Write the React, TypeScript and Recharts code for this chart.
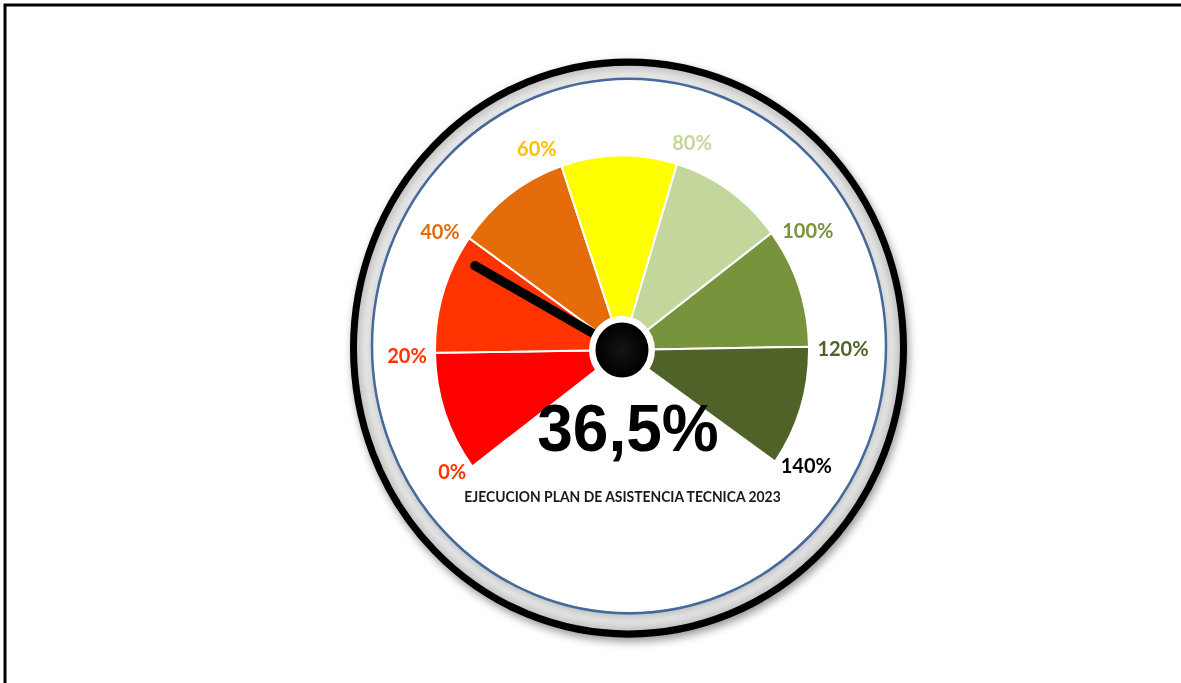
import React from 'react';
import { PieChart, Pie, Cell } from 'recharts';

const CATEGORIES = ['0-20', '20-40', '40-60', '60-80', '80-100', '100-120', '120-140'];
const SEGMENT_VALUES = [20, 20, 20, 20, 20, 20, 20];
const SEGMENT_COLORS = ['#FF0000', '#FF3300', '#E46C0A', '#FFFF00', '#C3D69B', '#77933C', '#4F6228'];
const TICK_LABELS = ['0%', '20%', '40%', '60%', '80%', '100%', '120%', '140%'];
const TICK_COLORS = ['#FF3300', '#FF3300', '#E46C0A', '#FFC000', '#C3D69B', '#77933C', '#4F6228', '#000000'];
const GAUGE_VALUE = 36.5;
const GAUGE_MAX = 140;
const TITLE = 'EJECUCION PLAN DE ASISTENCIA TECNICA 2023';

// label placement fine-tuning (style): angle shift in degrees and gap beyond the outer radius
const LABEL_ANGLE_SHIFT = [-2.3, 0.5, 3, 4.8, -2.2, -5, -0.5, 4];
const LABEL_GAP = [19, 28, 28, 25, 25, 32, 34, 28];

const segmentData = CATEGORIES.map((name, i) => ({ name, value: SEGMENT_VALUES[i] }));
const needleData = [
  { name: 'valor', value: GAUGE_VALUE },
  { name: 'resto', value: GAUGE_MAX - GAUGE_VALUE },
];

const W = 1181;
const H = 683;
const CX = 622;
const CY = 350;
const R = 187;
const START = 216.8;
const END = -35;
const STRETCH = 1.04;
const RAD = Math.PI / 180;

const polar = (cx: number, cy: number, r: number, a: number) => ({
  x: cx + r * Math.cos(-a * RAD),
  y: cy + r * Math.sin(-a * RAD),
});

const tickLabel = (i: number, cx: number, cy: number, outerRadius: number, angle: number) => {
  const p = polar(cx, cy, outerRadius + LABEL_GAP[i], angle + LABEL_ANGLE_SHIFT[i]);
  return (
    <text
      key={`t${i}`}
      x={p.x}
      y={p.y}
      textAnchor="middle"
      dominantBaseline="central"
      fill={TICK_COLORS[i]}
      fontFamily="Lato, 'Open Sans', sans-serif"
      fontWeight={700}
      fontSize={20}
    >
      {TICK_LABELS[i]}
    </text>
  );
};

const renderTickLabel = (props: any) => {
  const { cx, cy, outerRadius, startAngle, endAngle, index } = props;
  const items = [tickLabel(index, cx, cy, outerRadius, startAngle)];
  if (index === CATEGORIES.length - 1) {
    items.push(tickLabel(index + 1, cx, cy, outerRadius, endAngle));
  }
  return <g key={`tl-${index}`}>{items}</g>;
};

const renderNeedle = (props: any) => {
  const { cx, cy, endAngle, index } = props;
  if (index !== 0) return <g key={`n-${index}`} />;
  const tip = polar(cx, cy, 168, endAngle);
  return (
    <g key="needle">
      <defs>
        <radialGradient id="hubGrad" cx="50%" cy="50%" r="50%">
          <stop offset="0%" stopColor="#141414" />
          <stop offset="100%" stopColor="#000000" />
        </radialGradient>
      </defs>
      <line x1={cx} y1={cy} x2={tip.x} y2={tip.y} stroke="#000" strokeWidth={9} strokeLinecap="round" />
      <circle cx={cx} cy={cy} r={33} fill="#ffffff" />
      <circle cx={cx} cy={cy} r={26.5} fill="url(#hubGrad)" />
      <text
        x={cx + 6}
        y={447}
        textAnchor="middle"
        fill="#000"
        fontFamily="'Liberation Sans', Arial, sans-serif"
        fontWeight={700}
        fontSize={64}
      >
        {GAUGE_VALUE.toFixed(1).replace('.', ',') + '%'}
      </text>
      <text
        x={cx + 0.5}
        y={496}
        textAnchor="middle"
        fill="#1a1a1a"
        fontFamily="Lato, 'Open Sans', sans-serif"
        fontWeight={700}
        fontSize={13.9}
      >
        {TITLE}
      </text>
    </g>
  );
};

export default function App() {
  return (
    <div style={{ position: 'absolute', left: 0, top: 0, width: W, height: H, overflow: 'hidden', background: '#fff' }}>
      <svg width={W} height={H} style={{ position: 'absolute', left: 0, top: 0 }}>
        <path d={`M5,${H + 5} V5 H${W + 5}`} fill="none" stroke="#000" strokeWidth={3} />
      </svg>
      <div
        style={{
          position: 'absolute',
          left: 0,
          top: 0,
          width: W,
          height: H,
          transform: `scaleY(${STRETCH})`,
          transformOrigin: `${CX}px ${CY}px`,
        }}
      >
        <svg width={W} height={H} style={{ position: 'absolute', left: 0, top: 0 }}>
          <defs>
            <filter id="outerShadow" x="-20%" y="-20%" width="140%" height="140%">
              <feDropShadow dx="2" dy="4" stdDeviation="4" floodColor="#000" floodOpacity="0.4" />
            </filter>
            <filter id="innerShadow" x="-20%" y="-20%" width="140%" height="140%">
              <feDropShadow dx="0" dy="3" stdDeviation="3" floodColor="#000" floodOpacity="0.2" />
            </filter>
            <radialGradient id="bandGrad" cx="50%" cy="50%" r="50%">
              <stop offset="92%" stopColor="#f7f7f7" />
              <stop offset="96%" stopColor="#e2e2e2" />
              <stop offset="100%" stopColor="#b8b8b8" />
            </radialGradient>
          </defs>
          <circle cx={628.5} cy={348.1} r={275} fill="url(#bandGrad)" stroke="#000" strokeWidth={7} filter="url(#outerShadow)" />
          <circle cx={629} cy={346.2} r={257} fill="#ffffff" stroke="#45699A" strokeWidth={2.5} filter="url(#innerShadow)" />
        </svg>
        <div style={{ position: 'absolute', left: 0, top: 0 }}>
          <PieChart width={W} height={H} margin={{ top: 0, right: 0, bottom: 0, left: 0 }}>
            <Pie
              data={segmentData}
              dataKey="value"
              nameKey="name"
              cx={CX}
              cy={CY}
              innerRadius={0}
              outerRadius={R}
              startAngle={START}
              endAngle={END}
              stroke="#ffffff"
              strokeWidth={2}
              label={renderTickLabel}
              labelLine={false}
              isAnimationActive={false}
            >
              {segmentData.map((d, i) => (
                <Cell key={d.name} fill={SEGMENT_COLORS[i]} />
              ))}
            </Pie>
            <Pie
              data={needleData}
              dataKey="value"
              nameKey="name"
              cx={CX}
              cy={CY}
              innerRadius={0}
              outerRadius={R}
              startAngle={START}
              endAngle={END}
              fill="transparent"
              stroke="none"
              label={renderNeedle}
              labelLine={false}
              isAnimationActive={false}
            />
          </PieChart>
        </div>
      </div>
    </div>
  );
}
